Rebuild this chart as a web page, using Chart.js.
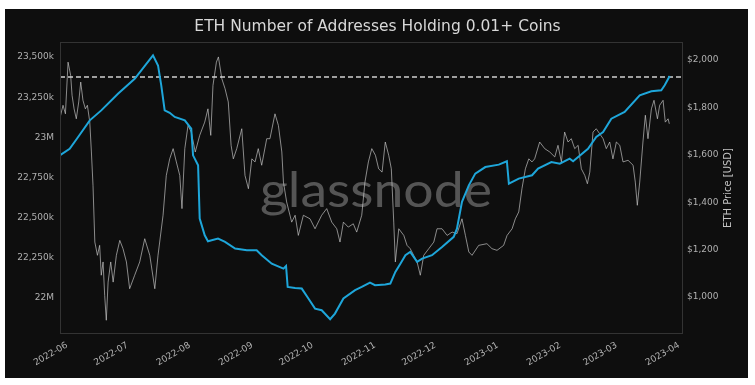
<!DOCTYPE html>
<html>
<head>
<meta charset="utf-8">
<title>ETH Number of Addresses Holding 0.01+ Coins</title>
<script src="https://cdn.jsdelivr.net/npm/chart.js@4/dist/chart.umd.min.js"></script>
<style>
  html, body { margin:0; padding:0; background:#fff; }
  #wrap { position:relative; width:755px; height:385px; }
</style>
</head>
<body>
<div id="wrap"><canvas id="chart" width="755" height="385"></canvas></div>
<script>
// ── DATA ──
// x values are days counted from 2022-06-01
const monthDays   = [0, 30, 61, 92, 122, 153, 183, 214, 245, 273, 304]
const monthLabels = ['2022-06', '2022-07', '2022-08', '2022-09', '2022-10', '2022-11',
                     '2022-12', '2023-01', '2023-02', '2023-03', '2023-04']

// addresses are in thousands
const addrTicks      = [22000, 22250, 22500, 22750, 23000, 23250, 23500]
const addrTickLabels = ['22M', '22,250k', '22,500k', '22,750k', '23M', '23,250k', '23,500k']
const priceTicks      = [1000, 1200, 1400, 1600, 1800, 2000]
const priceTickLabels = ['$1,000', '$1,200', '$1,400', '$1,600', '$1,800', '$2,000']

const addrDays = [-3.6, 1.3, 5.5, 11.3, 17.0, 25.3, 33.6, 42.7, 45.2, 46.8, 48.5, 51.0, 53.5, 58.5,
  61.7, 62.6, 65.1, 65.9, 68.4, 70.0, 75.0, 78.5, 83.5, 89.3, 94.2, 96.7, 101.7, 107.5, 108.8, 109.6,
  113.3, 116.6, 119.9, 123.2, 126.5, 130.7, 133.1, 137.3, 143.1, 146.4, 150.5, 153.0, 158.1, 160.6,
  163.1, 165.6, 168.1, 170.5, 173.9, 176.4, 181.3, 186.3, 192.1, 193.7, 196.2, 199.6, 202.8, 207.8,
  214.5, 218.5, 219.5, 224.4, 231.0, 234.0, 240.6, 244.8, 249.7, 251.4, 258.8, 262.9, 266.3, 270.4,
  277.0, 284.5, 290.3, 295.2, 296.9, 299.4]
const addrValues = [22888, 22929, 23002, 23106, 23168, 23272, 23365, 23511, 23448, 23324, 23168, 23153,
  23127, 23106, 23054, 22888, 22826, 22494, 22390, 22353, 22369, 22349, 22307, 22297, 22297, 22266,
  22213, 22182, 22199, 22068, 22062, 22058, 21996, 21933, 21923, 21867, 21902, 21996, 22048, 22068,
  22095, 22079, 22083, 22089, 22162, 22213, 22266, 22286, 22224, 22245, 22266, 22317, 22380, 22431,
  22598, 22701, 22774, 22815, 22830, 22851, 22711, 22743, 22764, 22805, 22846, 22836, 22867, 22851,
  22929, 23002, 23033, 23116, 23158, 23262, 23287, 23293, 23324, 23382]

const priceDays = [-3.6, -2.0, -0.8, 0.5, 1.8, 2.5, 3.5, 4.6, 5.8, 6.8, 7.9, 9.1, 10.1, 11.3, 12.1,
  12.9, 13.8, 15.1, 16.2, 17.0, 17.9, 18.7, 19.5, 20.4, 21.7, 22.9, 24.5, 26.2, 27.8, 29.5, 31.1, 33.6,
  36.1, 38.6, 41.1, 43.6, 45.2, 47.7, 49.3, 51.0, 52.7, 54.3, 56.0, 57.1, 58.5, 60.1, 61.7, 63.7, 65.9,
  68.4, 70.0, 71.4, 72.5, 74.2, 75.2, 76.9, 78.5, 80.1, 81.5, 82.6, 84.3, 86.8, 88.4, 90.1, 91.8, 93.4,
  95.0, 96.7, 99.2, 100.8, 103.3, 105.0, 106.7, 107.5, 109.1, 111.6, 113.3, 114.9, 117.4, 120.7, 123.2,
  126.5, 129.0, 131.5, 134.0, 135.6, 137.3, 139.7, 142.2, 143.9, 146.4, 148.0, 149.7, 151.4, 153.2,
  154.8, 156.5, 158.1, 159.8, 161.1, 162.3, 163.1, 164.8, 167.3, 168.9, 170.5, 172.2, 173.9, 175.5,
  177.2, 179.7, 182.2, 183.8, 186.3, 188.8, 191.3, 193.7, 196.2, 197.9, 199.6, 201.2, 204.5, 208.6,
  211.1, 213.6, 216.9, 218.6, 221.1, 222.7, 224.4, 226.0, 227.7, 229.4, 231.0, 232.3, 234.8, 237.3,
  239.8, 242.3, 243.9, 245.6, 247.2, 248.9, 250.5, 252.2, 253.9, 255.5, 257.2, 258.5, 259.7, 261.3,
  262.9, 264.6, 266.3, 267.9, 269.6, 271.2, 272.9, 274.6, 276.2, 278.7, 281.2, 282.3, 283.3, 284.5,
  286.1, 287.3, 288.6, 290.3, 291.6, 293.3, 294.4, 296.1, 297.2, 298.6, 299.2]
const priceValues = [1752, 1809, 1773, 1991, 1935, 1851, 1794, 1752, 1823, 1907, 1830, 1794, 1809, 1738,
  1612, 1471, 1232, 1176, 1218, 1092, 1148, 1007, 902, 1063, 1148, 1063, 1176, 1239, 1204, 1148, 1035,
  1092, 1148, 1246, 1176, 1035, 1176, 1345, 1513, 1583, 1626, 1570, 1513, 1373, 1626, 1724, 1696, 1612,
  1682, 1738, 1794, 1682, 1893, 1991, 2013, 1921, 1879, 1823, 1640, 1583, 1626, 1710, 1513, 1457, 1583,
  1570, 1626, 1556, 1668, 1668, 1773, 1724, 1612, 1485, 1401, 1316, 1345, 1260, 1345, 1330, 1288, 1345,
  1373, 1316, 1288, 1232, 1316, 1295, 1309, 1274, 1345, 1485, 1570, 1626, 1598, 1541, 1527, 1654, 1598,
  1541, 1316, 1148, 1288, 1260, 1218, 1204, 1176, 1148, 1092, 1176, 1204, 1232, 1288, 1288, 1260, 1274,
  1267, 1330, 1260, 1190, 1176, 1218, 1225, 1204, 1197, 1218, 1260, 1288, 1330, 1359, 1457, 1541, 1583,
  1570, 1583, 1654, 1626, 1612, 1591, 1640, 1570, 1696, 1654, 1668, 1626, 1640, 1541, 1513, 1478, 1527,
  1696, 1710, 1689, 1668, 1626, 1654, 1583, 1654, 1640, 1570, 1577, 1556, 1485, 1387, 1485, 1654, 1767,
  1668, 1794, 1830, 1752, 1809, 1830, 1738, 1752, 1731]

const refLevel = 23376   // dashed line, thousands

// ── AXIS LIMITS ──
const xMin = -3.5, xMax = 306
const addrMin = 21775, addrMax = 23594
const priceMin = 844, priceMax = 2076

const tickColor = '#b0b0b0'
const tickFont  = { family: 'DejaVu Sans', size: 9 }

const toPoints = (xs, ys) => xs.map((x, i) => ({ x, y: ys[i] }))

// ── PLUGINS ──
const background = {
  id: 'background',
  beforeDraw(chart) {
    const c = chart.ctx
    c.save()
    c.fillStyle = '#ffffff'
    c.fillRect(0, 0, chart.width, chart.height)
    c.fillStyle = '#0e0e0e'
    c.fillRect(5, 9, 743, 369)
    c.restore()
  }
}

const watermark = {
  id: 'watermark',
  beforeDatasetsDraw(chart) {
    const c = chart.ctx
    c.save()
    c.font = '48px Lato'
    c.fillStyle = '#555555'
    c.textBaseline = 'alphabetic'
    const w = c.measureText('glassnode').width
    c.translate(376, 207)
    c.scale(232 / w, 1)
    c.textAlign = 'center'
    c.fillText('glassnode', 0, 0)
    c.restore()
  }
}

const frame = {
  id: 'frame',
  afterDraw(chart) {
    const { ctx: c, chartArea: a } = chart
    c.save()
    c.strokeStyle = '#333333'
    c.lineWidth = 1
    c.strokeRect(a.left + 0.5, a.top + 0.5, a.right - a.left - 1, a.bottom - a.top - 1)
    // right axis title reads bottom to top
    c.translate(728, 188)
    c.rotate(-Math.PI / 2)
    c.font = '10px "DejaVu Sans"'
    c.fillStyle = '#c4c4c4'
    c.textAlign = 'center'
    c.textBaseline = 'middle'
    c.fillText('ETH Price [USD]', 0, 0)
    c.restore()
  }
}

// ── CHART ──
new Chart(document.getElementById('chart'), {
  type: 'line',
  data: {
    datasets: [
      {
        label: 'Addresses', data: toPoints(addrDays, addrValues), yAxisID: 'y', order: 0,
        borderColor: '#1ea6da', borderWidth: 2, pointRadius: 0, tension: 0,
      },
      {
        label: 'Reference', data: [{ x: xMin, y: refLevel }, { x: xMax, y: refLevel }], yAxisID: 'y', order: 1,
        borderColor: '#cfcfcf', borderWidth: 1.5, borderDash: [5, 3], pointRadius: 0,
      },
      {
        label: 'Price', data: toPoints(priceDays, priceValues), yAxisID: 'y1', order: 2,
        borderColor: 'rgba(205,205,205,0.65)', borderWidth: 1, pointRadius: 0, tension: 0,
      },
    ]
  },
  options: {
    responsive: false, animation: false, devicePixelRatio: 1,
    layout: { padding: 0 },
    plugins: {
      legend: { display: false }, tooltip: { enabled: false },
      title: {
        display: true, text: 'ETH Number of Addresses Holding 0.01+ Coins', color: '#d8d8d8',
        font: { family: 'DejaVu Sans', size: 15.5, weight: 'normal', lineHeight: 1.2 },
        padding: { top: 18, bottom: 5.4 },
      },
    },
    scales: {
      x: {
        type: 'linear', min: xMin, max: xMax,
        afterBuildTicks: s => { s.ticks = monthDays.map(v => ({ value: v })) },
        afterFit: s => { s.height = 51 },
        ticks: { autoSkip: false, minRotation: 30, maxRotation: 30, color: tickColor, font: tickFont, padding: 6,
                 callback: v => monthLabels[monthDays.indexOf(v)] },
        grid: { display: false, drawTicks: false }, border: { display: false },
      },
      y: {
        type: 'linear', position: 'left', min: addrMin, max: addrMax,
        afterBuildTicks: s => { s.ticks = addrTicks.map(v => ({ value: v })) },
        afterFit: s => { s.width = 60 },
        ticks: { color: tickColor, font: tickFont, padding: 6, callback: v => addrTickLabels[addrTicks.indexOf(v)] },
        grid: { display: false, drawTicks: false }, border: { display: false },
      },
      y1: {
        type: 'linear', position: 'right', min: priceMin, max: priceMax,
        afterBuildTicks: s => { s.ticks = priceTicks.map(v => ({ value: v })) },
        afterFit: s => { s.width = 72 },
        ticks: { color: tickColor, font: tickFont, padding: 4, callback: v => priceTickLabels[priceTicks.indexOf(v)] },
        grid: { display: false, drawTicks: false }, border: { display: false },
      },
    },
  },
  plugins: [background, watermark, frame],
})
</script>
</body>
</html>
